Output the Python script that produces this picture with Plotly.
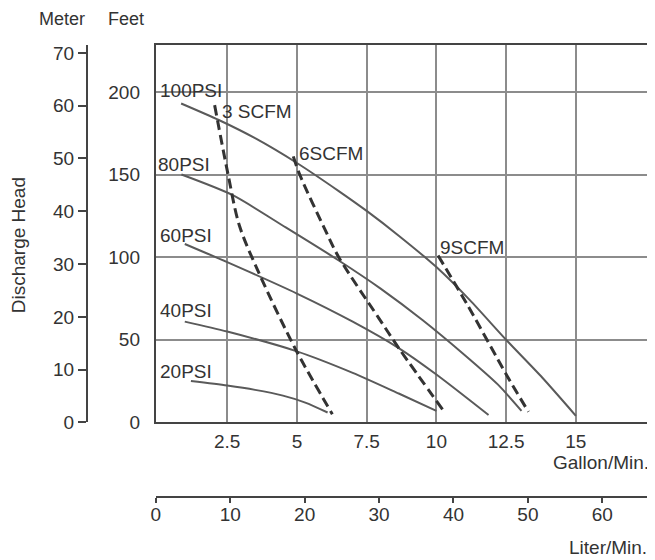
import plotly.graph_objects as go

# ---- data (flow in US gallons/min, head in feet) ----
gal_ticks = [2.5, 5, 7.5, 10, 12.5, 15]
gal_tick_text = ["2.5", "5", "7.5", "10", "12.5", "15"]
feet_ticks = [0, 50, 100, 150, 200]
meter_ticks = [0, 10, 20, 30, 40, 50, 60, 70]
liter_ticks = [0, 10, 20, 30, 40, 50, 60]

psi100_gpm = [0.85, 2.2, 3.5, 5.0, 6.5, 7.5, 8.65, 10.0, 11.2, 12.5, 13.8, 15.0]
psi100_ft = [193, 183, 172, 157, 140, 128, 113, 94, 74, 50, 27, 4]

psi80_gpm = [0.86, 2.7, 4.6, 6.5, 8.0, 9.5, 11.0, 12.2, 13.05]
psi80_ft = [150, 137.5, 118, 98, 81, 62, 41, 23, 7]

psi60_gpm = [0.98, 2.5, 5.0, 7.0, 8.65, 10.0, 11.87]
psi60_ft = [108, 97, 78, 61, 45, 29, 4.5]

psi40_gpm = [0.98, 2.5, 5.0, 7.0, 8.65, 10.0]
psi40_ft = [61, 55, 43, 30, 17.5, 7]

psi20_gpm = [1.2, 2.5, 3.5, 4.5, 5.3, 6.1]
psi20_ft = [25, 22.3, 19.7, 16.2, 12, 6]

scfm3_gpm = [2.05, 2.52, 2.94, 3.65, 4.96, 6.27]
scfm3_ft = [192, 151, 119, 90, 44, 5]

scfm6_gpm = [4.87, 5.1, 6.0, 6.5, 7.94, 8.65, 10.26]
scfm6_ft = [161, 150, 117, 100, 63, 45, 7]

scfm9_gpm = [10.06, 11.15, 12.52, 13.3]
scfm9_ft = [101, 70, 28.6, 6.4]

psi_series = [
    ("100PSI", psi100_gpm, psi100_ft),
    ("80PSI", psi80_gpm, psi80_ft),
    ("60PSI", psi60_gpm, psi60_ft),
    ("40PSI", psi40_gpm, psi40_ft),
    ("20PSI", psi20_gpm, psi20_ft),
]
scfm_series = [
    ("3 SCFM", scfm3_gpm, scfm3_ft),
    ("6SCFM", scfm6_gpm, scfm6_ft),
    ("9SCFM", scfm9_gpm, scfm9_ft),
]

FONT = "Liberation Sans, Arial, sans-serif"
FS = 19
TXT = "#333333"
GRID = "#8c8c8c"
AX = "#444444"

fig = go.Figure()

for name, xs, ys in psi_series:
    fig.add_trace(go.Scatter(x=xs, y=ys, mode="lines", name=name,
                             line=dict(color="#5a5a5a", width=2, shape="spline", smoothing=0.7),
                             hoverinfo="skip", showlegend=False))
for name, xs, ys in scfm_series:
    fig.add_trace(go.Scatter(x=xs, y=ys, mode="lines", name=name,
                             line=dict(color="#333333", width=3, dash="10px,5px", shape="spline", smoothing=0.9),
                             hoverinfo="skip", showlegend=False))

# dummy trace so the secondary axes are drawn
fig.add_trace(go.Scatter(x=[None], y=[None], xaxis="x2", yaxis="y2", showlegend=False, hoverinfo="skip"))

# curve labels
label_pos = {
    "100PSI": (0.06, 201), "80PSI": (0.0, 156), "60PSI": (0.06, 113),
    "40PSI": (0.06, 68), "20PSI": (0.06, 30.6),
    "3 SCFM": (2.27, 188), "6SCFM": (5.04, 163), "9SCFM": (10.08, 106),
}
for txt, (lx, ly) in label_pos.items():
    fig.add_annotation(x=lx, y=ly, xref="x", yref="y", text=txt, showarrow=False,
                       xanchor="left", yanchor="middle", font=dict(size=FS, color=TXT, family=FONT),
                       borderpad=0)

paper_ann = [
    ("Meter", -0.0445, 1.058, "center", 0, 18),
    ("Feet", 0.0694, 1.058, "center", 0, 18),
    ("Discharge Head", -0.1228, 0.5575, "center", -90, FS),
    ("Gallon/Min.", 1.0053, 0.0774, "right", 0, FS),
    ("Liter/Min.", 1.0018, -0.1128, "right", 0, FS),
]
for txt, px, py, xa, ang, fs in paper_ann:
    fig.add_annotation(x=px, y=py, xref="paper", yref="paper", text=txt, showarrow=False,
                       xanchor=xa, yanchor="middle", textangle=ang, borderpad=0,
                       font=dict(size=fs, color=TXT, family=FONT))

# the page body adds an 8px offset, so the figure is 8px smaller than the window
fig.update_layout(
    width=647, height=552,
    margin=dict(l=79, r=6, t=37, b=63, pad=0),
    paper_bgcolor="white", plot_bgcolor="white",
    font=dict(family=FONT, size=FS, color=TXT),
    showlegend=False,
    xaxis=dict(domain=[0.1228, 1], range=[-0.06, 17.55], tickvals=gal_ticks, ticktext=gal_tick_text,
               showgrid=True, gridcolor=GRID, gridwidth=1.5, zeroline=False,
               showline=True, linecolor=AX, linewidth=2, mirror=True,
               ticks="outside", ticklen=1, tickcolor="rgba(0,0,0,0)"),
    yaxis=dict(domain=[0.165, 1], range=[0, 228.4], tickvals=feet_ticks,
               showgrid=True, gridcolor=GRID, gridwidth=1.5, zeroline=False,
               showline=True, linecolor=AX, linewidth=2, mirror=True,
               ticks="outside", ticklen=10, tickcolor="rgba(0,0,0,0)"),
    yaxis2=dict(overlaying="y", anchor="free", position=0, side="left", range=[0, 71.5],
                tickvals=meter_ticks, showgrid=False, zeroline=False,
                showline=True, linecolor=AX, linewidth=2,
                ticks="outside", ticklen=8, tickwidth=2, tickcolor=AX),
    xaxis2=dict(overlaying="x", anchor="free", position=0, side="bottom", range=[0, 66],
                tickvals=liter_ticks, showgrid=False, zeroline=False,
                showline=True, linecolor=AX, linewidth=2,
                ticks="outside", ticklen=5, tickwidth=2, tickcolor=AX),
)
try:
    fig.layout.xaxis2.ticklabelstandoff = -5
except Exception:
    pass

fig.write_html("out.html")
